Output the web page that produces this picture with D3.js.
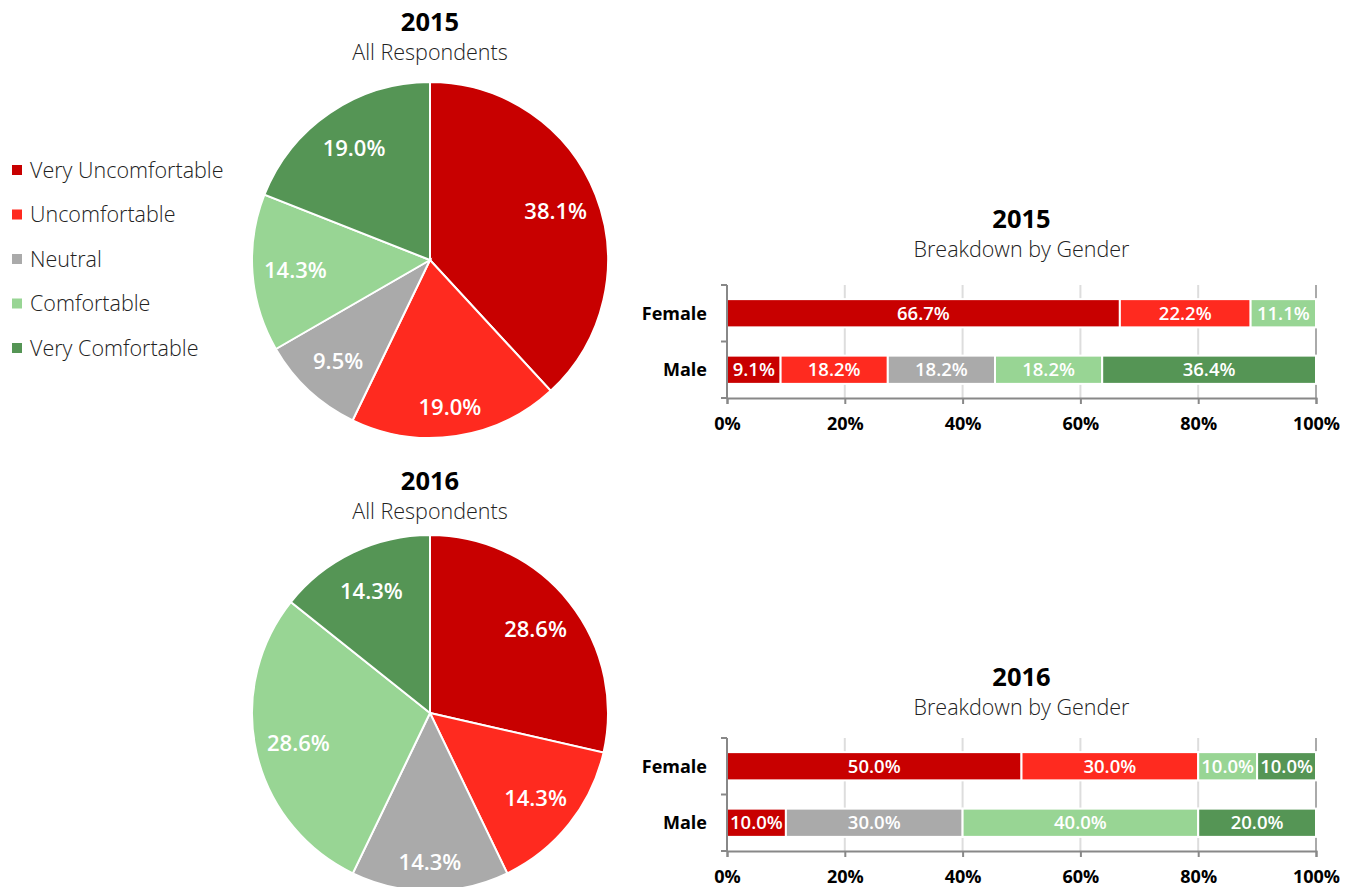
<!DOCTYPE html>
<html>
<head>
<meta charset="utf-8">
<script src="https://cdn.jsdelivr.net/npm/d3@7"></script>
<style>
  body { margin: 0; background: #fff; }
  svg text { font-family: 'Open Sans', sans-serif; }
</style>
</head>
<body>
<div id="chart"></div>
<script>
// comfort categories and their colours
const categories = ['Very Uncomfortable', 'Uncomfortable', 'Neutral', 'Comfortable', 'Very Comfortable'];
const catColors = ['#c80000', '#ff2a1f', '#aaaaaa', '#98d594', '#559555'];

// all respondents, percent
const pie2015 = [38.1, 19.0, 9.5, 14.3, 19.0];
const pie2016 = [28.6, 14.3, 14.3, 28.6, 14.3];

// breakdown by gender, percent
const genders = ['Female', 'Male'];
const female2015 = [66.7, 22.2, 0, 11.1, 0];
const male2015 = [9.1, 18.2, 18.2, 18.2, 36.4];
const female2016 = [50.0, 30.0, 0, 10.0, 10.0];
const male2016 = [10.0, 0, 30.0, 40.0, 20.0];
const xTicks = [0, 20, 40, 60, 80, 100];

const W = 1354, H = 887;
const svg = d3.select('#chart').append('svg')
    .attr('width', W)
    .attr('height', H);

const pct = d => d3.format('.1f')(d) + '%';

// ---- legend ----
const legend = svg.append('g').attr('transform', 'translate(12,170)');
const li = legend.selectAll('g')
    .data(categories)
    .enter()
    .append('g')
    .attr('transform', (d, i) => `translate(0,${i * 44.5})`);
li.append('rect')
    .attr('x', 0).attr('y', -5)
    .attr('width', 10).attr('height', 10)
    .attr('fill', (d, i) => catColors[i]);
li.append('text')
    .attr('x', 18).attr('dy', '0.35em')
    .style('font-size', '21.5px')
    .style('font-weight', 300)
    .attr('fill', '#222')
    .text(d => d);

// ---- pies ----
function drawPie(values, year, cx, cy, titleY) {
    const r = 178;
    svg.append('text')
        .attr('x', cx).attr('y', titleY)
        .attr('text-anchor', 'middle')
        .style('font-size', '25.5px').style('font-weight', 700)
        .text(year);
    svg.append('text')
        .attr('x', cx).attr('y', titleY + 29)
        .attr('text-anchor', 'middle')
        .style('font-size', '21.5px').style('font-weight', 300)
        .attr('fill', '#222')
        .text('All Respondents');

    const pie = d3.pie().sort(null).value(d => d);
    const arc = d3.arc().innerRadius(0).outerRadius(r);
    const labelArc = d3.arc().innerRadius(135).outerRadius(135);
    const g = svg.append('g').attr('transform', `translate(${cx},${cy})`);
    const arcs = pie(values);

    g.selectAll('path')
        .data(arcs)
        .enter()
        .append('path')
        .attr('d', arc)
        .attr('fill', (d, i) => catColors[i])
        .attr('stroke', '#fff')
        .attr('stroke-width', 2);

    // labels sit a little lower in slices that point straight down
    g.selectAll('.plabel')
        .data(arcs)
        .enter()
        .append('text')
        .attr('class', 'plabel')
        .attr('transform', d => {
            const [lx, ly] = labelArc.centroid(d);
            const mid = (d.startAngle + d.endAngle) / 2;
            const nudge = 14 * Math.pow(Math.max(0, -Math.cos(mid)), 6);
            return `translate(${lx},${ly + nudge})`;
        })
        .attr('text-anchor', 'middle')
        .attr('dy', '0.36em')
        .attr('fill', '#fff')
        .style('font-size', '22px').style('font-weight', 600)
        .text(d => pct(d.data));
}

drawPie(pie2015, '2015', 430, 260, 31);
drawPie(pie2016, '2016', 430, 713, 490);

// ---- stacked gender bars ----
function drawBars(female, male, year, top, titleY) {
    const left = 727, right = 1316;
    const plotTop = top, plotBottom = top + 113;
    const cx = (left + right) / 2;

    svg.append('text')
        .attr('x', cx).attr('y', titleY)
        .attr('text-anchor', 'middle')
        .style('font-size', '25.5px').style('font-weight', 700)
        .text(year);
    svg.append('text')
        .attr('x', cx).attr('y', titleY + 29)
        .attr('text-anchor', 'middle')
        .style('font-size', '21.5px').style('font-weight', 300)
        .attr('fill', '#222')
        .text('Breakdown by Gender');

    const x = d3.scaleLinear().domain([0, 100]).range([left, right]).clamp(true);
    const y = d3.scaleBand().domain(genders).range([plotTop, plotBottom])
        .paddingInner(0.5).paddingOuter(0.25);

    // gridlines
    svg.append('g').selectAll('line')
        .data(xTicks.slice(1))
        .enter()
        .append('line')
        .attr('x1', d => x(d)).attr('x2', d => x(d))
        .attr('y1', plotTop).attr('y2', plotBottom)
        .attr('stroke', d => d === 100 ? '#aaa' : '#ddd')
        .attr('stroke-width', 2);

    const rows = [female, male];
    rows.forEach((vals, ri) => {
        let acc = 0;
        const segs = vals.map((v, i) => {
            const s = { x0: acc, x1: acc + v, v: v, i: i };
            acc += v;
            return s;
        }).filter(s => s.v > 0);
        const g = svg.append('g');
        g.selectAll('rect')
            .data(segs)
            .enter()
            .append('rect')
            .attr('x', d => x(d.x0))
            .attr('y', y(genders[ri]))
            .attr('width', d => x(d.x1) - x(d.x0))
            .attr('height', y.bandwidth())
            .attr('fill', d => catColors[d.i])
            .attr('stroke', '#fff')
            .attr('stroke-width', 2);
        g.selectAll('text')
            .data(segs)
            .enter()
            .append('text')
            .attr('x', d => (x(d.x0) + x(d.x1)) / 2)
            .attr('y', y(genders[ri]) + y.bandwidth() / 2)
            .attr('dy', '0.36em')
            .attr('text-anchor', 'middle')
            .attr('fill', '#fff')
            .style('font-size', '18.5px').style('font-weight', 600)
            .text(d => pct(d.v));
    });

    // y axis
    const yAxis = svg.append('g')
        .attr('transform', `translate(${left},0)`);
    yAxis.append('line')
        .attr('y1', plotTop).attr('y2', plotBottom)
        .attr('stroke', '#888').attr('stroke-width', 2);
    const bounds = [plotTop, plotTop + (plotBottom - plotTop) / 2, plotBottom];
    yAxis.selectAll('.yt')
        .data(bounds)
        .enter()
        .append('line')
        .attr('x1', -6).attr('x2', 0)
        .attr('y1', d => d).attr('y2', d => d)
        .attr('stroke', '#888').attr('stroke-width', 2);
    yAxis.selectAll('text')
        .data(genders)
        .enter()
        .append('text')
        .attr('x', -20)
        .attr('y', d => y(d) + y.bandwidth() / 2)
        .attr('dy', '0.36em')
        .attr('text-anchor', 'end')
        .style('font-size', '18px').style('font-weight', 700)
        .text(d => d);

    // x axis
    const xAxis = svg.append('g')
        .attr('transform', `translate(0,${plotBottom})`)
        .call(d3.axisBottom(x).tickValues(xTicks).tickSize(6).tickFormat(d => d + '%'));
    xAxis.select('.domain').attr('stroke', '#888').attr('stroke-width', 2);
    xAxis.selectAll('.tick line').attr('stroke', '#888').attr('stroke-width', 2);
    xAxis.selectAll('.tick text')
        .attr('y', 19)
        .attr('fill', '#000')
        .style('font-size', '18px').style('font-weight', 700)
        .style('font-family', "'Open Sans', sans-serif");
}

drawBars(female2015, male2015, '2015', 285, 228);
drawBars(female2016, male2016, '2016', 738, 686);
</script>
</body>
</html>
